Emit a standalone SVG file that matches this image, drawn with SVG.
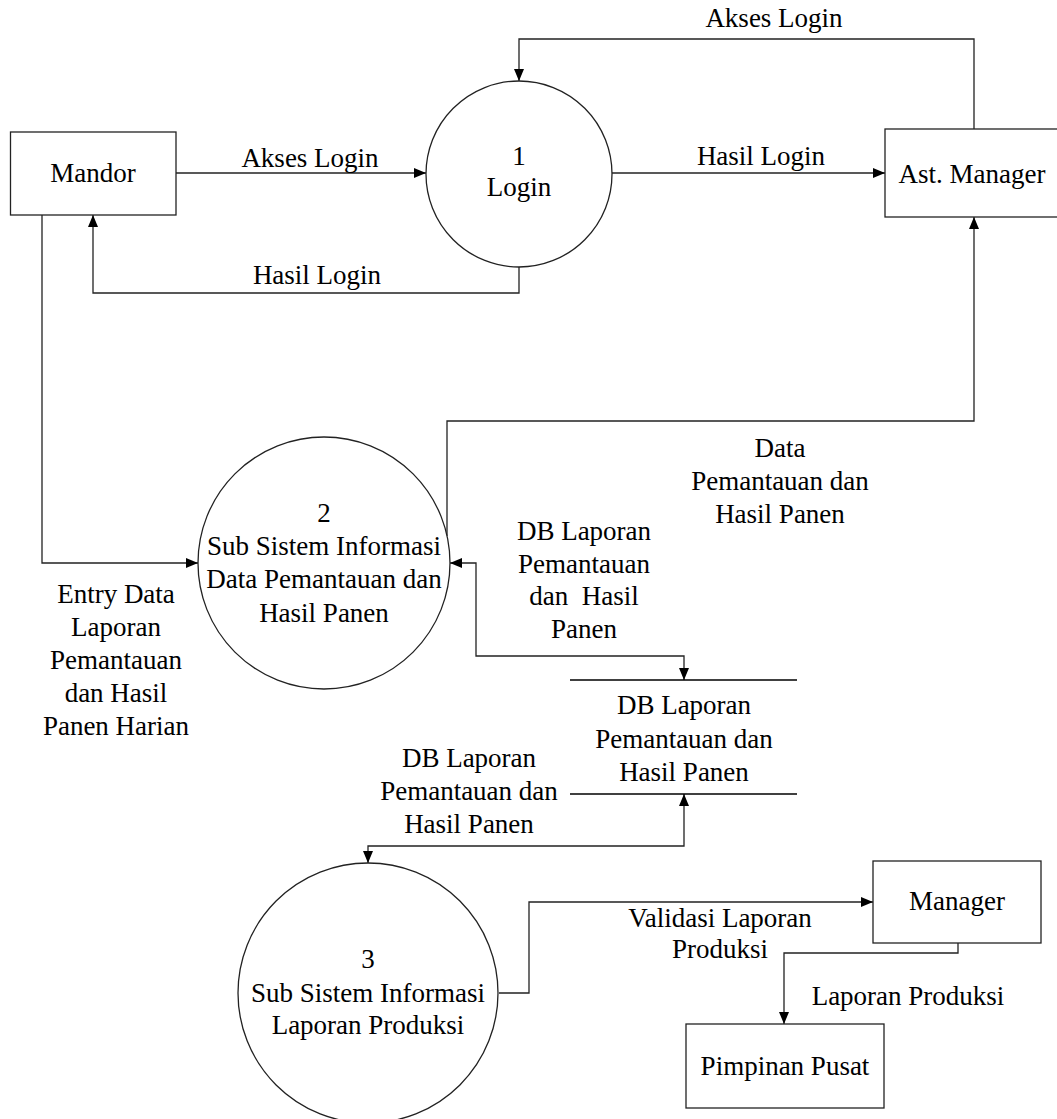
<svg xmlns="http://www.w3.org/2000/svg" width="1057" height="1119" viewBox="0 0 1057 1119">
<defs>
<marker id="arr" viewBox="0 0 12 10" refX="12" refY="5" markerWidth="12" markerHeight="10" markerUnits="userSpaceOnUse" orient="auto-start-reverse">
<path d="M0,0 L12,5 L0,10 z" fill="#000"/>
</marker>
<style>
text{font-family:"Liberation Serif","Times New Roman",serif;font-size:27px;fill:#000;text-anchor:middle}
.box,.proc{fill:#fff;stroke:#222;stroke-width:1.3}
.store{stroke:#000;stroke-width:1.3;fill:none}
.flow{fill:none;stroke:#222;stroke-width:1.3;marker-end:url(#arr)}
.bi{marker-start:url(#arr)}
</style>
</defs>
<rect width="1057" height="1119" fill="#fff"/>
<g id="connectors">
<path class="flow" d="M176,173 H426"/>
<path class="flow" d="M519,267 V293 H93 V215"/>
<path class="flow" d="M612,173 H885"/>
<path class="flow" d="M974,129 V39 H519 V81"/>
<path class="flow" d="M42,215 V563 H198"/>
<path class="flow" d="M447,536 V421 H974 V217"/>
<path class="flow bi" d="M450,563 H476 V656 H684 V680"/>
<path class="flow bi" d="M684,794 V846 H368 V863"/>
<path class="flow" d="M499,993 H529 V902 H873"/>
<path class="flow" d="M958,943 V953 H784 V1024"/>
<text x="310" y="167">Akses Login</text>
<text x="317" y="284">Hasil Login</text>
<text x="761" y="165">Hasil Login</text>
<text x="774" y="27">Akses Login</text>
<text x="116" y="603">Entry Data</text>
<text x="116" y="636">Laporan</text>
<text x="116" y="669">Pemantauan</text>
<text x="116" y="702">dan Hasil</text>
<text x="116" y="735">Panen Harian</text>
<text x="780" y="457">Data</text>
<text x="780" y="490">Pemantauan dan</text>
<text x="780" y="523">Hasil Panen</text>
<text x="584" y="540">DB Laporan</text>
<text x="584" y="573">Pemantauan</text>
<text x="584" y="605" xml:space="preserve">dan  Hasil</text>
<text x="584" y="638">Panen</text>
<text x="469" y="767">DB Laporan</text>
<text x="469" y="800">Pemantauan dan</text>
<text x="469" y="833">Hasil Panen</text>
<text x="720" y="927">Validasi Laporan</text>
<text x="720" y="958">Produksi</text>
<text x="908" y="1005">Laporan Produksi</text>
</g>
<g id="mandor">
<rect class="box" x="10.5" y="132" width="165.5" height="83"/>
<text x="93" y="182">Mandor</text>
</g>
<g id="p1">
<circle class="proc" cx="519" cy="174" r="93"/>
<text x="519" y="165">1</text>
<text x="519" y="196">Login</text>
</g>
<g id="astmanager">
<rect class="box" x="885" y="129" width="180" height="88"/>
<text x="972" y="183">Ast. Manager</text>
</g>
<g id="p2">
<circle class="proc" cx="324" cy="563" r="126"/>
<text x="324" y="522">2</text>
<text x="324" y="555">Sub Sistem Informasi</text>
<text x="324" y="588">Data Pemantauan dan</text>
<text x="324" y="622">Hasil Panen</text>
</g>
<g id="datastore">
<line class="store" x1="570" y1="680" x2="797" y2="680"/>
<line class="store" x1="570" y1="794" x2="797" y2="794"/>
<text x="684" y="714">DB Laporan</text>
<text x="684" y="748">Pemantauan dan</text>
<text x="684" y="781">Hasil Panen</text>
</g>
<g id="p3">
<circle class="proc" cx="368" cy="993" r="130"/>
<text x="368" y="968">3</text>
<text x="368" y="1002">Sub Sistem Informasi</text>
<text x="368" y="1034">Laporan Produksi</text>
</g>
<g id="manager">
<rect class="box" x="873" y="861" width="168" height="82"/>
<text x="957" y="910">Manager</text>
</g>
<g id="pimpinan">
<rect class="box" x="686" y="1024" width="198" height="84"/>
<text x="785" y="1075">Pimpinan Pusat</text>
</g>
</svg>
